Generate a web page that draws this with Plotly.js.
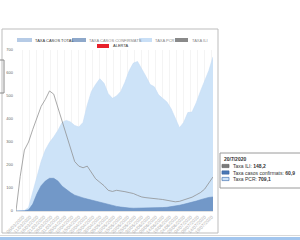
<!DOCTYPE html>
<html><head><meta charset="utf-8">
<script src="https://cdn.plot.ly/plotly-3.0.1.min.js"></script>
<style>html,body{margin:0;padding:0;background:#fff}#c{width:300px;height:240px}</style>
</head><body><div id="c"></div>
<script>
const dates = ["2020-03-01","2020-03-04","2020-03-07","2020-03-10","2020-03-13","2020-03-16","2020-03-19","2020-03-22","2020-03-25","2020-03-28","2020-03-31",
"2020-04-03","2020-04-06","2020-04-09","2020-04-12","2020-04-15","2020-04-18","2020-04-21","2020-04-24","2020-04-27","2020-04-30",
"2020-05-03","2020-05-06","2020-05-09","2020-05-12","2020-05-15","2020-05-18","2020-05-21","2020-05-24","2020-05-27","2020-05-30",
"2020-06-02","2020-06-05","2020-06-08","2020-06-11","2020-06-14","2020-06-17","2020-06-20","2020-06-23","2020-06-26","2020-06-29",
"2020-07-02","2020-07-05","2020-07-08","2020-07-11","2020-07-14","2020-07-17","2020-07-20"];
const taxaILI = [0,150,265,300,355,410,455,485,522,508,450,390,325,265,215,195,188,195,165,140,125,110,90,85,90,88,84,80,76,68,61,58,57,55,52,50,47,44,40,42,48,54,60,70,80,95,120,148.2];
const taxaConfirmats = [0,0,1,5,30,75,110,130,142,142,130,108,92,80,69,62,57,52,47,42,37,32,27,24,20,17,14,13,12,12,12,12,13,13,14,15,16,18,21,25,29,33,38,43,49,55,59,60.9];
const taxaPCR = [0,0,2,15,80,150,215,265,298,322,350,385,394,387,372,365,385,460,520,550,575,555,510,490,500,520,560,610,643,650,620,585,550,540,505,488,474,445,400,362,385,428,430,470,520,565,610,670];
const legendNames = ["TAXA CASOS TOTAL","TAXA CASOS CONFIRMATS","TAXA PCR","TAXA ILI","ALERTA"];
const tooltipDate = "20/7/2020";
const tooltipLabels = ["Taxa ILI: ","Taxa casos confirmats: ","Taxa PCR: "];
const tooltipValues = ["148,2","60,9","709,1"];
const yTicks = [0,100,200,300,400,500,600,700];

const L=16,R=213,T=50,B=211;
const px = x => (x-L)/(R-L);
const py = y => (B-y)/(B-T);
const FONT = "Liberation Sans, Arial, sans-serif";

const traces = [
 {x:dates,y:taxaPCR,type:'scatter',mode:'lines',fill:'tozeroy',fillcolor:'#cde3f8',line:{color:'#c4dcf5',width:0.6},hoverinfo:'skip',showlegend:false},
 {x:dates,y:taxaConfirmats,type:'scatter',mode:'lines',fill:'tozeroy',fillcolor:'#7298c8',line:{color:'#6a91c3',width:0.6},hoverinfo:'skip',showlegend:false},
 {x:dates,y:taxaILI,type:'scatter',mode:'lines',line:{color:'#8c8c8c',width:0.75},hoverinfo:'skip',showlegend:false}
];

const shapes = [];
const annotations = [];
shapes.push({type:'rect',xref:'paper',yref:'paper',x0:px(2),x1:px(218),y0:py(29),y1:py(233),line:{color:'#bdbdbd',width:1},layer:'below'});
shapes.push({type:'path',xref:'paper',yref:'paper',path:`M ${px(0)} ${py(60)} L ${px(4)} ${py(60)} L ${px(4)} ${py(93)} L ${px(0)} ${py(93)}`,line:{color:'#888',width:1}});
shapes.push({type:'line',xref:'paper',yref:'paper',x0:px(0),x1:px(300),y0:py(235.5),y1:py(235.5),line:{color:'#d8d8d8',width:1}});
shapes.push({type:'rect',xref:'paper',yref:'paper',x0:px(0),x1:px(300),y0:py(237),y1:py(241),fillcolor:'#a3c6ee',line:{width:0}});

const leg = [
 {sx:17,sw:15,y:40,c:'#b6cbe6',tx:33,tc:'#333'},
 {sx:72,sw:14,y:40,c:'#8ea8ca',tx:87,tc:'#888'},
 {sx:139,sw:13,y:40,c:'#c9dff6',tx:153,tc:'#888'},
 {sx:175,sw:13,y:40,c:'#8a8a8a',tx:190,tc:'#888'},
 {sx:97,sw:12,y:46,c:'#e8202a',tx:111,tc:'#333'}
];
leg.forEach((l,i)=>{
 shapes.push({type:'rect',xref:'paper',yref:'paper',x0:px(l.sx),x1:px(l.sx+l.sw),y0:py(l.y-2),y1:py(l.y+2),fillcolor:l.c,line:{width:0}});
 annotations.push({xref:'paper',yref:'paper',x:px(l.tx),y:py(l.y),xanchor:'left',yanchor:'middle',showarrow:false,text:legendNames[i],font:{family:FONT,size:4,color:l.tc}});
});

shapes.push({type:'rect',xref:'paper',yref:'paper',x0:px(220),x1:px(303),y0:py(153),y1:py(188),fillcolor:'#ffffff',line:{color:'#9a9a9a',width:1}});
annotations.push({xref:'paper',yref:'paper',x:px(221.5),y:py(159),xanchor:'left',yanchor:'middle',showarrow:false,text:'<b>'+tooltipDate+'</b>',font:{family:FONT,size:5,color:'#333'}});
const tipSw = [{c:'#7a7a7a',b:'#666'},{c:'#4a78b5',b:'#3b66a0'},{c:'#cbe1f7',b:'#4a78b5'}];
const tipY = [166,172.5,179];
tooltipLabels.forEach((t,i)=>{
 shapes.push({type:'rect',xref:'paper',yref:'paper',x0:px(222),x1:px(229),y0:py(tipY[i]-1.6),y1:py(tipY[i]+1.6),fillcolor:tipSw[i].c,line:{color:tipSw[i].b,width:0.7}});
 annotations.push({xref:'paper',yref:'paper',x:px(230.5),y:py(tipY[i]),xanchor:'left',yanchor:'middle',showarrow:false,text:t+'<b>'+tooltipValues[i]+'</b>',font:{family:FONT,size:5,color:'#333'}});
});

const layout = {
 width:300,height:240,
 margin:{l:L,r:300-R,t:T,b:240-B,pad:0},
 paper_bgcolor:'#fff',plot_bgcolor:'#fff',
 showlegend:false,
 xaxis:{type:'date',range:['2020-03-01','2020-07-20'],tick0:'2020-03-01',dtick:5*86400000,tickformat:'%d/%m/%Y',
   tickangle:-45,tickfont:{family:FONT,size:4.6,color:'#b0b0b0'},showgrid:true,gridcolor:'#ececec',gridwidth:0.6,
   showline:true,linecolor:'#cfcfcf',linewidth:0.6,ticks:'',zeroline:false,fixedrange:true,ticklabelstandoff:1},
 yaxis:{range:[0,700],tickvals:yTicks,ticktext:yTicks.map(String),tickfont:{family:FONT,size:4,color:'#666'},
   showgrid:false,zeroline:false,showline:false,ticks:'',ticklabelstandoff:2,fixedrange:true},
 shapes:shapes,annotations:annotations,hovermode:false
};
Plotly.newPlot('c',traces,layout,{staticPlot:true,displayModeBar:false});
</script></body></html>
